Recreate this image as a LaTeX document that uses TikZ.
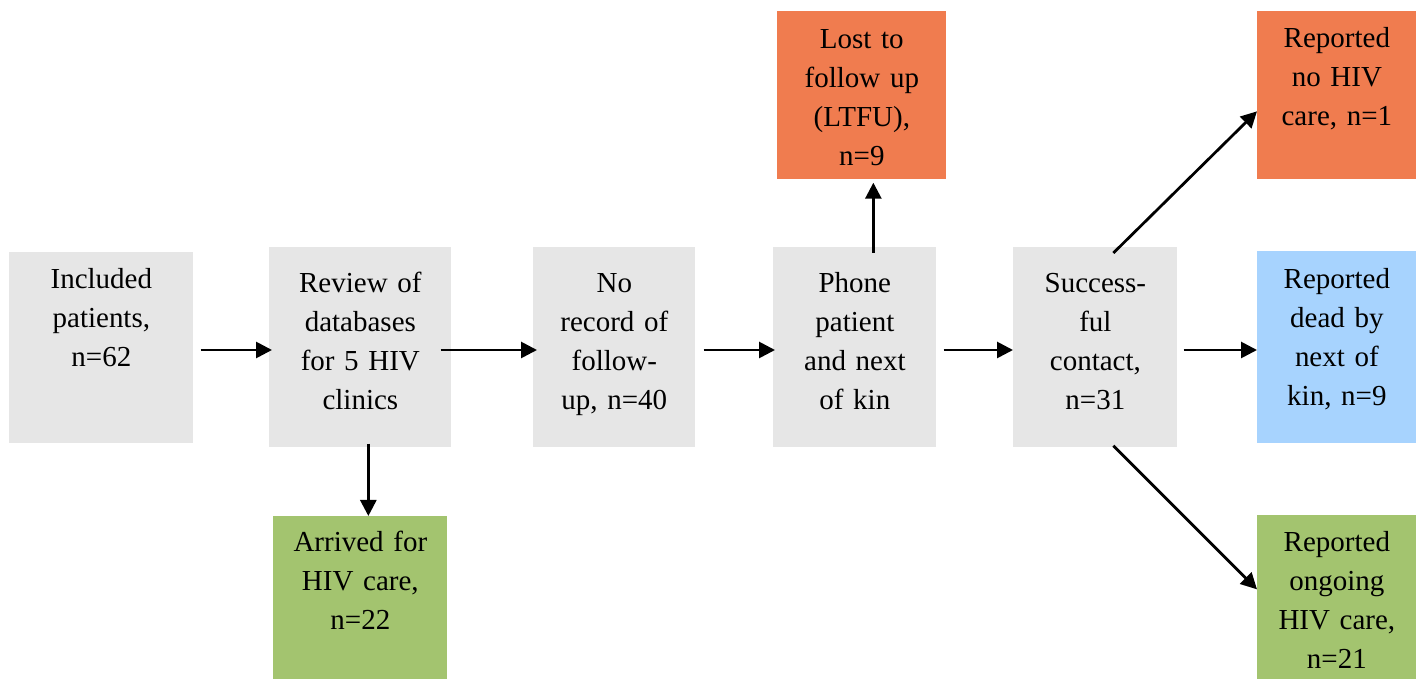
\documentclass[tikz,border=0pt]{standalone}
\usepackage{fontspec}
\setmainfont{Liberation Serif}
\usetikzlibrary{arrows.meta}
\definecolor{boxgrey}{HTML}{E6E6E6}
\definecolor{boxorange}{HTML}{F07C4F}
\definecolor{boxblue}{HTML}{A7D3FE}
\definecolor{boxgreen}{HTML}{A3C46F}
\begin{document}
\begin{tikzpicture}[
    box/.style={inner sep=0pt, anchor=north west, align=center, font=\fontsize{16.5}{22.2}\selectfont},
    arr/.style={line width=0.055cm, -{Triangle[length=0.32cm,width=0.32cm]}}]
  \useasboundingbox (0,0) rectangle (28.32,-13.58);
  \coordinate (mid) at (0,-7.0);
  % main row
  \node[box, fill=boxgrey, text width=3.68cm, text height=0.72cm, text depth=3.10cm] (incl) at (0.18,-5.04) {Included\\patients,\\n=62};
  \node[box, fill=boxgrey, text width=3.64cm, text height=0.9cm, text depth=3.1cm] (review) at (5.38,-4.94) {Review of\\databases\\for 5 HIV\\clinics};
  \node[box, fill=boxgrey, text width=3.24cm, text height=0.9cm, text depth=3.1cm] (norec) at (10.66,-4.94) {No\\record of\\follow-\\up, n=40};
  \node[box, fill=boxgrey, text width=3.26cm, text height=0.9cm, text depth=3.1cm] (phone) at (15.46,-4.94) {Phone\\patient\\and next\\of kin};
  \node[box, fill=boxgrey, text width=3.28cm, text height=0.9cm, text depth=3.1cm] (contact) at (20.26,-4.94) {Success-\\ful\\contact,\\n=31};
  % outcomes
  \node[box, fill=boxorange, text width=3.38cm, text height=0.74cm, text depth=2.62cm] (ltfu) at (15.54,-0.22) {Lost to\\follow up\\(LTFU),\\n=9};
  \node[box, fill=boxorange, text width=3.18cm, text height=0.72cm, text depth=2.64cm] (nocare) at (25.14,-0.22) {Reported\\no HIV\\care, n=1};
  \node[box, fill=boxblue, text width=3.18cm, text height=0.74cm, text depth=3.10cm] (dead) at (25.14,-5.02) {Reported\\dead by\\next of\\kin, n=9};
  \node[box, fill=boxgreen, text width=3.18cm, text height=0.72cm, text depth=2.56cm] (ongoing) at (25.14,-10.30) {Reported\\ongoing\\HIV care,\\n=21};
  \node[box, fill=boxgreen, text width=3.48cm, text height=0.70cm, text depth=2.56cm] (arrived) at (5.46,-10.32) {Arrived for\\HIV care,\\n=22};
  % arrows
  \draw[arr] ([xshift=0.14cm]incl.east |- mid) -- ([xshift=0.06cm]review.west |- mid);
  \draw[arr] ([xshift=-0.22cm]review.east |- mid) -- ([xshift=0.08cm]norec.west |- mid);
  \draw[arr] ([xshift=0.16cm]norec.east |- mid) -- ([xshift=0.04cm]phone.west |- mid);
  \draw[arr] ([xshift=0.14cm]phone.east |- mid) -- (contact.west |- mid);
  \draw[arr] ([xshift=0.12cm]contact.east |- mid) -- (dead.west |- mid);
  \draw[arr] ([xshift=0.37cm,yshift=-0.12cm]phone.north) coordinate (up) -- ([yshift=-0.06cm]ltfu.south -| up);
  \draw[arr] ([xshift=0.16cm,yshift=0.08cm]review.south) coordinate (dn) -- (arrived.north -| dn);
  \draw[arr] ([xshift=0.36cm,yshift=-0.12cm]contact.north) -- ([yshift=-0.32cm]nocare.west);
  \draw[arr] ([xshift=0.36cm,yshift=0.04cm]contact.south) -- ([yshift=0.16cm]ongoing.west);
\end{tikzpicture}
\end{document}
